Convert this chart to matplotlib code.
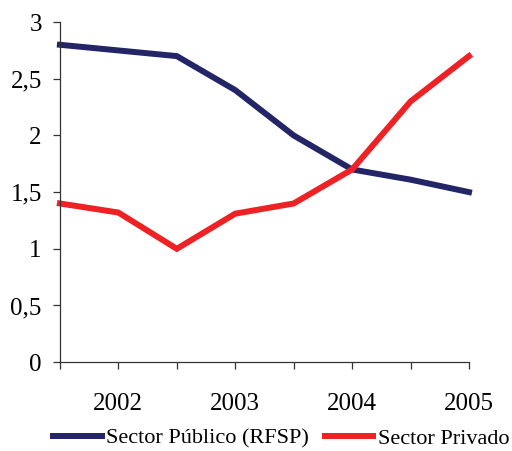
import matplotlib
matplotlib.use("Agg")
import matplotlib.pyplot as plt
from matplotlib.ticker import FuncFormatter

periods = list(range(8))
period_labels = ['', '2002', '', '2003', '', '2004', '', '2005']
publico = [2.8, 2.75, 2.7, 2.4, 2.0, 1.7, 1.61, 1.5]
privado = [1.4, 1.32, 1.0, 1.31, 1.4, 1.7, 2.3, 2.7]
series_names = ['Sector Público (RFSP)', 'Sector Privado']

plt.rcParams['font.family'] = ['Liberation Serif', 'DejaVu Serif']

fig = plt.figure(figsize=(5.12, 4.51), dpi=100)
ax = fig.add_axes([0.117, 0.197, 0.799, 0.754])

ax.plot(periods, publico, color='#232567', lw=4.3, label=series_names[0],
        solid_joinstyle='miter', clip_on=False)
ax.plot(periods, privado, color='#ee2124', lw=4.3, label=series_names[1],
        solid_joinstyle='miter', clip_on=False)

ax.set_xlim(0, 7)
ax.set_ylim(0, 3)
ax.set_xticks(periods)
ax.set_xticklabels(period_labels)
ax.set_yticks([0, 0.5, 1, 1.5, 2, 2.5, 3])
ax.yaxis.set_major_formatter(FuncFormatter(lambda v, p: ('%g' % v).replace('.', ',')))

for s in ['top', 'right']:
    ax.spines[s].set_visible(False)
for s in ['left', 'bottom']:
    ax.spines[s].set_color('#333333')
    ax.spines[s].set_linewidth(0.9)

ax.tick_params(axis='y', direction='out', length=5, width=0.9, color='#333333',
               labelsize=18, pad=8)
ax.tick_params(axis='x', direction='out', length=5, width=0.9, color='#333333',
               labelsize=18, pad=17)

fig.legend(loc='center right', bbox_to_anchor=(0.995, 0.028), ncol=2, frameon=False,
           fontsize=16, handlelength=2.2, handletextpad=0.2, columnspacing=0.7,
           borderpad=0, borderaxespad=0)

fig.savefig('out.png', dpi=100)
